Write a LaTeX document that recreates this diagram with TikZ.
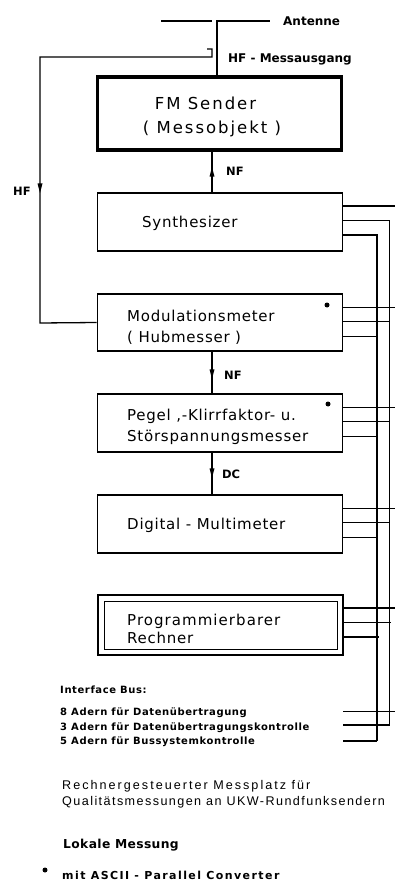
\documentclass[tikz,border=0pt]{standalone}
\usepackage{fontspec}
\setmainfont{DejaVu Sans}
\newfontfamily\titfam{Liberation Sans}
\usetikzlibrary{arrows.meta,decorations.markings,calc}
\newcommand\boxf{\fontsize{15}{17}\selectfont\addfontfeature{LetterSpace=5}}
\newcommand\bigf{\fontsize{16.5}{19}\selectfont\addfontfeature{LetterSpace=12}}
\newcommand\lblf{\fontsize{12}{14}\selectfont\bfseries}
\newcommand\smlf{\fontsize{11.5}{13}\selectfont\bfseries}
\newcommand\busf{\fontsize{10}{12}\selectfont\bfseries\addfontfeature{LetterSpace=6}}
\newcommand\titf{\titfam\fontsize{12.6}{15}\selectfont\addfontfeature{LetterSpace=16}}
\newcommand\titg{\titfam\fontsize{12.6}{15}\selectfont\addfontfeature{LetterSpace=11.3}}
\newcommand\lokf{\fontsize{12.3}{15}\selectfont\bfseries\addfontfeature{LetterSpace=3}}
\newcommand\notf{\fontsize{11}{13}\selectfont\bfseries\addfontfeature{LetterSpace=13}}
\begin{document}
\begin{tikzpicture}[x=1pt,y=-1pt,
  box/.style={draw, line width=1.7pt, minimum width=245pt, minimum height=58pt, inner sep=0pt},
  txt/.style={inner sep=0pt, anchor=base west},
  wire/.style={line width=1.3pt},
  midarrow/.style={postaction={decorate}, decoration={markings, mark=at position #1 with {\fill (0pt,0pt) -- (-9.5pt,2.5pt) -- (-9.5pt,-2.5pt) -- cycle;}}}]
\fill[white] (0,0) rectangle (394,890);
\useasboundingbox (0,0) rectangle (394,890);
% boxes
\node[box, line width=3.6pt, minimum width=244pt, minimum height=73pt] (fm) at (219.5,113.5) {};
\node[box] (synth) at (220,222) {};
\node[box, minimum height=57pt] (mod) at (220,322.5) {};
\node[box] (pegel) at (220,423) {};
\node[box] (dmm) at (220,524) {};
\node[box, line width=2pt, minimum height=60pt] (rech) at (220.5,625) {};
\node[draw, line width=0.8pt, minimum width=233pt, minimum height=48pt, inner sep=0pt] (rechin) at (220.5,625) {};
% box texts
\node[txt, anchor=base, font=\bigf] (t1) at (205.5,110) {FM Sender};
\node[txt, anchor=base, font=\bigf] (t2) at (212,134) {( Messobjekt )};
\node[txt, font=\boxf] (t3) at (142,228) {Synthesizer};
\node[txt, font=\boxf] (t4) at (127,321) {Modulationsmeter};
\node[txt, font=\boxf] (t5) at (127,342) {( Hubmesser )};
\node[txt, font=\boxf] (t6) at (127,420) {Pegel ,-Klirrfaktor- u.};
\node[txt, font=\boxf] (t7) at (127,441) {Störspannungsmesser};
\node[txt, font=\boxf] (t8) at (127,529) {Digital - Multimeter};
\node[txt, font=\boxf\addfontfeature{LetterSpace=7}] (t9) at (127,625) {Programmierbarer};
\node[txt, font=\boxf] (t10) at (127,643) {Rechner};
\fill (327,305) circle (2.5);
\fill (328,404) circle (2.5);
% antenna
\coordinate (antx) at (217,21);
\coordinate (antl) at (161,21);
\coordinate (antm) at (212,21);
\draw[wire] (fm.north -| antx) -- (antx) -- ++(53,0);
\draw[wire] (antl) -- (antm);
\node[txt, font=\lblf] (ant) at (283,26) {Antenne};
\node[txt, font=\lblf] (hfm) at (228,63) {HF - Messausgang};
% HF loop
\coordinate (hfout) at (207,49);
\draw[wire, midarrow=321pt] (hfout) -- (212,49) -- (212,57) -- (40,57) -- (40,323) -- (mod.west);
\node[txt, font=\smlf] (hf) at (13,196) {HF};
% NF / DC
\coordinate (nfx) at (212,0);
\draw[wire, midarrow=25pt] (synth.north -| nfx) -- (fm.south -| nfx);
\node[txt, font=\smlf] (nf1) at (226,176) {NF};
\draw[wire, midarrow=27pt] (mod.south -| nfx) -- (pegel.north -| nfx);
\node[txt, font=\smlf] (nf2) at (224,379) {NF};
\draw[wire, midarrow=25pt] (pegel.south -| nfx) -- (dmm.north -| nfx);
\node[txt, font=\smlf] (dc) at (222,478) {DC};
% bus
\foreach \b in {synth,mod,pegel,dmm,rech}{
  \draw[wire] ([yshift=-14pt]\b.north east) -- ++(54,0);
  \draw[wire] ([yshift=-28.5pt]\b.north east) -- ++(47,0);
  \draw[wire] ([yshift=-43pt]\b.north east) -- ++(34.5,0);
}
\coordinate (b2t) at (389.5,221.5);
\coordinate (b2b) at (389.5,725);
\coordinate (b3t) at (377,236);
\coordinate (b3b) at (377,741);
\draw[wire] (b2t) -- (b2b);
\draw[wire] (b3t) -- (b3b);
\coordinate (bl1) at (343,711.5);
\coordinate (bl2) at (343,725);
\coordinate (bl3) at (343,741);
\draw[wire] (bl1) -- ++(53,0);
\draw[wire] (bl2) -- (b2b);
\draw[wire] (bl3) -- (b3b);
% legend
\node[txt, font=\busf] (ib) at (60,693) {Interface Bus:};
\node[txt, font=\busf] (l1) at (60,715) {8 Adern für Datenübertragung};
\node[txt, font=\busf] (l2) at (60,730) {3 Adern für Datenübertragungskontrolle};
\node[txt, font=\busf] (l3) at (60,744) {5 Adern für Bussystemkontrolle};
\node[txt, font=\titf] (ti1) at (62,789) {Rechnergesteuerter Messplatz für};
\node[txt, font=\titg] (ti2) at (62,805) {Qualitätsmessungen an UKW-Rundfunksendern};
\node[txt, font=\lokf] (lok) at (63,848) {Lokale Messung};
\fill (45,870) circle (2.5);
\node[txt, font=\notf] (note) at (62,879) {mit ASCII - Parallel Converter};
\end{tikzpicture}
\end{document}
